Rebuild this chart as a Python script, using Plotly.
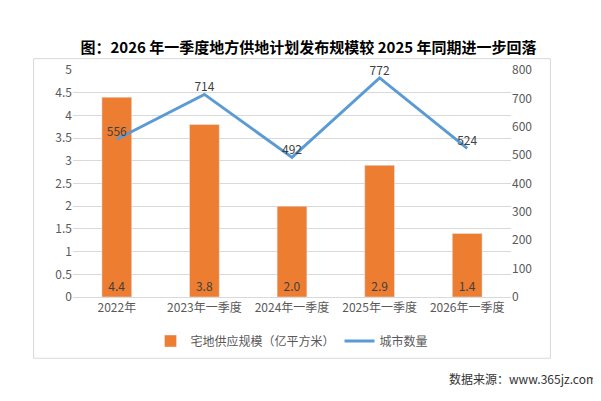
import plotly.graph_objects as go

categories = ["2022年", "2023年一季度", "2024年一季度", "2025年一季度", "2026年一季度"]
supply = [4.4, 3.8, 2.0, 2.9, 1.4]
cities = [556, 714, 492, 772, 524]
supply_text = ["4.4", "3.8", "2.0", "2.9", "1.4"]

font = "Microsoft YaHei, Noto Sans CJK SC, sans-serif"
fig = go.Figure()
fig.add_trace(go.Bar(x=categories, y=supply, name="宅地供应规模（亿平方米）",
                     marker_color="#ED7D31", width=0.34,
                     text=supply_text, textposition="inside", insidetextanchor="start",
                     textfont=dict(color="#404040", size=12), cliponaxis=False))
fig.add_trace(go.Scatter(x=categories, y=cities, name="城市数量", yaxis="y2",
                         mode="lines+text", line=dict(color="#5B9BD5", width=3),
                         text=[str(c) for c in cities], textposition="top center",
                         textfont=dict(color="#404040", size=12), cliponaxis=False))
fig.update_layout(
    width=601, height=401, margin=dict(l=65, r=98, t=62, b=112),
    paper_bgcolor="white", plot_bgcolor="white",
    font=dict(family=font, color="#595959", size=12),
    title=dict(text="<b>图：2026 年一季度地方供地计划发布规模较 2025 年同期进一步回落</b>",
               x=0.5, xanchor="center", y=0.9, yanchor="middle",
               font=dict(size=15, color="#000000")),
    xaxis=dict(type="category", showline=True, linecolor="#D9D9D9", ticks="",
               tickfont=dict(size=12, color="#595959")),
    yaxis=dict(range=[0, 5], dtick=0.5, gridcolor="#D9D9D9", zeroline=False,
               tickfont=dict(size=12, color="#595959")),
    yaxis2=dict(range=[0, 800], dtick=100, overlaying="y", side="right",
                showgrid=False, zeroline=False, tickfont=dict(size=12, color="#595959")),
    legend=dict(orientation="h", x=0.5, xanchor="center", y=-0.13, yanchor="top",
                font=dict(size=12, color="#595959")),
    showlegend=True,
)
fig.add_shape(type="rect", xref="paper", yref="paper", x0=-0.09, x1=1.09, y0=-0.27, y1=1.05,
              line=dict(color="#D9D9D9", width=1))
fig.add_annotation(text="数据来源：www.365jz.com", xref="paper", yref="paper",
                   x=1.2, y=-0.36, xanchor="right", yanchor="middle", showarrow=False,
                   font=dict(size=12, color="#333333"))
fig.write_html("out.html")
